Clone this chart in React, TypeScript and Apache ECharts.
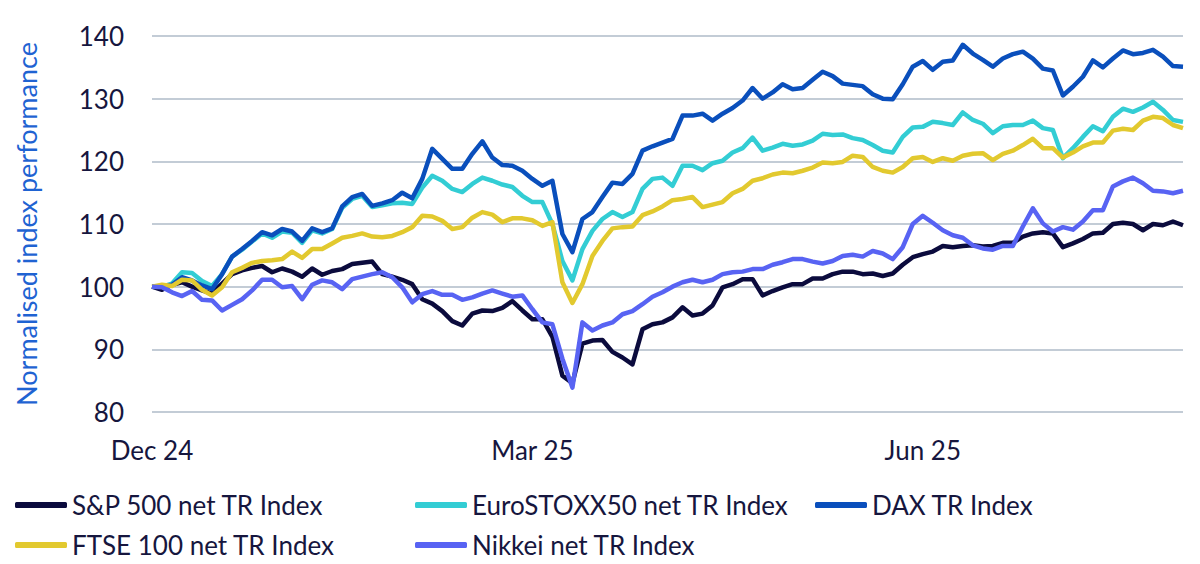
import React, { useEffect, useRef } from 'react';
import * as echarts from 'echarts';

const xLabels = ['Dec 24', 'Mar 25', 'Jun 25'];
const xLabelIndex = [0, 38, 77];

const spx = [
  100, 99.5, 100.3, 100.7, 100, 99.4, 98.9, 100.5, 102, 102.6, 103, 103.3, 102.3, 102.9, 102.4, 101.6, 102.9, 101.9, 102.5, 102.8, 103.6, 103.8, 104, 102, 101.6,
  101.1, 100.4, 98, 97.3, 96.1, 94.5, 93.8, 95.7, 96.2, 96.1, 96.6, 97.7, 96.2, 94.8, 94.8, 92, 85.8, 84.6, 90.9, 91.4, 91.5, 89.6, 88.7, 87.6, 93.2, 94, 94.3, 95.1, 96.7, 95.4, 95.7, 97, 99.9, 100.4, 101.2, 101.2, 98.6, 99.3, 99.9, 100.4,
  100.4, 101.3, 101.3, 102, 102.4, 102.4, 102, 102.1, 101.7, 102.1, 103.5, 104.7, 105.2, 105.6, 106.5, 106.3, 106.5, 106.6, 106.4, 106.5, 107, 107, 108, 108.5, 108.7, 108.5, 106.3, 106.9, 107.6, 108.5, 108.6, 110, 110.2, 110, 109, 110, 109.8, 110.4, 109.8,
];

const euroStoxx = [
  100, 100, 100.5, 102.3, 102.2, 100.9, 100.1, 102, 104.8, 105.9, 107.2, 108.5, 107.8, 108.8, 108.6, 107, 109, 108.5, 109.2, 112.6, 114, 114.5, 112.7, 113, 113.3,
  113.4, 113.2, 115.8, 117.7, 116.9, 115.6, 115.1, 116.4, 117.4, 116.9, 116.3, 115.9, 114.5, 113.5, 113.5, 110, 104.1, 101, 106, 108.9, 110.8, 111.9, 111.1, 111.9, 115.6, 117.2, 117.4, 116.1, 119.3, 119.3, 118.6, 119.7, 120.1, 121.4, 122.1, 123.8, 121.7, 122.2, 122.8, 122.5,
  122.7, 123.3, 124.4, 124.2, 124.3, 123.7, 123.4, 122.6, 121.7, 121.4, 123.9, 125.4, 125.5, 126.3, 126.1, 125.8, 127.8, 126.6, 126, 124.5, 125.6, 125.8, 125.8, 126.5, 125.3, 125, 120.5, 122.1, 123.9, 125.6, 124.8, 127.1, 128.4, 127.9, 128.6, 129.5, 128.2, 126.6, 126.3,
];

const dax = [
  100, 100, 100.3, 101.5, 101, 100.2, 99.6, 102, 104.8, 106, 107.3, 108.7, 108.2, 109.2, 108.8, 107.3, 109.3, 108.7, 109.3, 112.8, 114.3, 114.8, 112.9, 113.3, 113.8,
  115, 114.1, 117.2, 122, 120.4, 118.8, 118.8, 121.2, 123.2, 120.6, 119.4, 119.3, 118.5, 117.2, 116.1, 116.9, 108.4, 105.5, 110.8, 111.9, 114.3, 116.6, 116.4, 118, 121.7, 122.4, 123, 123.6, 127.3, 127.3, 127.6, 126.5, 127.6, 128.5, 129.7, 131.7, 130, 131, 132.3, 131.5,
  131.7, 133, 134.3, 133.6, 132.4, 132.2, 132, 130.7, 130, 129.9, 132.3, 135.1, 136, 134.6, 135.9, 136.1, 138.6, 137.2, 136.2, 135.1, 136.4, 137.1, 137.5, 136.4, 134.8, 134.5, 130.5, 131.9, 133.5, 136.1, 135, 136.4, 137.7, 137.1, 137.3, 137.8, 136.7, 135.2, 135.1,
];

const ftse = [
  100, 100.3, 100.1, 101.1, 101, 99.5, 98.6, 99.9, 102.3, 103, 103.8, 104.1, 104.2, 104.4, 105.6, 104.6, 106, 106, 106.9, 107.8, 108.1, 108.5, 108, 107.9, 108.1,
  108.7, 109.5, 111.3, 111.2, 110.5, 109.2, 109.5, 111, 111.9, 111.5, 110.3, 110.9, 110.9, 110.6, 109.7, 110.3, 100.7, 97.4, 100.4, 104.9, 107.3, 109.3, 109.5, 109.6, 111.4, 112, 112.8, 113.8, 114, 114.3, 112.7, 113.1, 113.5, 114.9, 115.6, 116.9, 117.3, 117.9, 118.2, 118.1,
  118.5, 119, 119.8, 119.7, 119.9, 120.9, 120.7, 119.1, 118.5, 118.2, 119.1, 120.5, 120.7, 119.9, 120.5, 120.1, 120.9, 121.2, 121.3, 120.2, 121.2, 121.7, 122.6, 123.6, 122.1, 122.1, 120.6, 121.4, 122.4, 123, 123, 124.9, 125.2, 125, 126.5, 127.1, 126.9, 125.8, 125.3,
];

const nikkei = [
  100, 99.9, 99.1, 98.5, 99.3, 97.9, 97.8, 96.2, 97.1, 98, 99.4, 101.1, 101.1, 99.9, 100.1, 98, 100.3, 101, 100.7, 99.6, 101.2, 101.6, 102, 102.3, 101.5,
  99.9, 97.5, 98.8, 99.3, 98.7, 98.7, 97.9, 98.3, 98.9, 99.4, 98.9, 98.4, 98.6, 96.4, 94.3, 94, 88.5, 83.9, 94.3, 93, 93.8, 94.3, 95.6, 96.1, 97.2, 98.4, 99.1, 100, 100.7, 101.1, 100.7, 101.1, 102, 102.3, 102.4, 102.8, 102.8, 103.5, 103.9, 104.4,
  104.4, 104, 103.7, 104.1, 104.9, 105.1, 104.8, 105.7, 105.3, 104.4, 106.3, 110, 111.3, 110.2, 109, 108.2, 107.8, 106.6, 106.1, 105.9, 106.5, 106.5, 109.6, 112.5, 110.1, 108.8, 109.5, 109.1, 110.4, 112.2, 112.2, 116, 116.8, 117.4, 116.5, 115.3, 115.2, 114.9, 115.3,
];

const seriesDefs = [
  { name: 'S&P 500 net TR Index', data: spx, color: '#0b0b3d' },
  { name: 'EuroSTOXX50 net TR Index', data: euroStoxx, color: '#33cdd4' },
  { name: 'DAX TR Index', data: dax, color: '#0a4fbc' },
  { name: 'FTSE 100 net TR Index', data: ftse, color: '#e2c92f' },
  { name: 'Nikkei net TR Index', data: nikkei, color: '#5863f3' },
];

const FONT = 'Lato, "Noto Sans", sans-serif';
const TEXT_COLOR = '#16163e';

const App: React.FC = () => {
  const chartRef = useRef<HTMLDivElement>(null);

  useEffect(() => {
    if (!chartRef.current) return;
    const chart = echarts.init(chartRef.current, undefined, { renderer: 'svg' });

    const categories = spx.map((_, i) => String(i));

    // one legend per item so the two rows line up in columns
    const legendPos = [
      { left: 10, top: 487 },
      { left: 410, top: 487 },
      { left: 810, top: 487 },
      { left: 10, top: 527 },
      { left: 410, top: 527 },
    ];

    const option: echarts.EChartsOption = {
      animation: false,
      backgroundColor: '#ffffff',
      textStyle: { fontFamily: FONT },
      grid: { left: 152, right: 17, top: 36, bottom: 152 },
      legend: seriesDefs.map((s, i) => ({
        data: [s.name],
        left: legendPos[i].left,
        top: legendPos[i].top,
        icon: 'roundRect',
        itemWidth: 52,
        itemHeight: 6,
        selectedMode: false,
        textStyle: { fontSize: 26, color: TEXT_COLOR, fontFamily: FONT },
      })),
      xAxis: {
        type: 'category',
        data: categories,
        boundaryGap: false,
        axisLine: { show: false },
        axisTick: { show: false },
        axisLabel: {
          interval: (index: number) => xLabelIndex.includes(index),
          formatter: (_v: string, index: number) => {
            const k = xLabelIndex.indexOf(index);
            return k >= 0 ? xLabels[k] : '';
          },
          margin: 25,
          fontSize: 26,
          color: TEXT_COLOR,
          fontFamily: FONT,
        },
        splitLine: { show: false },
      },
      yAxis: {
        type: 'value',
        min: 80,
        max: 140,
        interval: 10,
        name: 'Normalised index performance',
        nameLocation: 'middle',
        nameGap: 112,
        nameTextStyle: { fontSize: 27, color: '#1f63d2', fontFamily: FONT },
        axisLine: { show: false },
        axisTick: { show: false },
        axisLabel: { margin: 28, fontSize: 26, color: TEXT_COLOR, fontFamily: FONT },
        splitLine: { lineStyle: { color: '#c3ccd6', width: 2 } },
      },
      series: seriesDefs.map((s) => ({
        name: s.name,
        type: 'line',
        data: s.data,
        showSymbol: false,
        color: s.color,
        lineStyle: { color: s.color, width: 4.5, join: 'round' },
        itemStyle: { color: s.color },
      })),
    };

    chart.setOption(option);

    return () => {
      chart.dispose();
    };
  }, []);

  return (
    <div
      ref={chartRef}
      style={{ position: 'fixed', left: 0, top: 0, width: 1200, height: 564, background: '#fff' }}
    />
  );
};

export default App;
